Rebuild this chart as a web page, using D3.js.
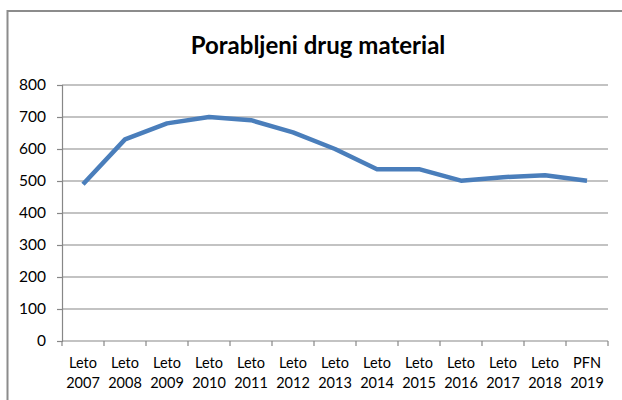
<!DOCTYPE html>
<html><head><meta charset="utf-8">
<script src="https://cdn.jsdelivr.net/npm/d3@7"></script>
<style>body{margin:0;background:#fff}</style>
</head><body>
<svg id="c" width="622" height="400"></svg>
<script>
const categories = [["Leto","2007"],["Leto","2008"],["Leto","2009"],["Leto","2010"],["Leto","2011"],["Leto","2012"],["Leto","2013"],["Leto","2014"],["Leto","2015"],["Leto","2016"],["Leto","2017"],["Leto","2018"],["PFN","2019"]];
const values = [490, 630, 680, 700, 690, 652, 600, 537, 537, 501, 512, 518, 501];
const yTicks = [0, 100, 200, 300, 400, 500, 600, 700, 800];
const title = "Porabljeni drug material";

const svg = d3.select("#c");
const font = "Lato, 'Open Sans', sans-serif";
svg.append("rect").attr("x", 7.5).attr("y", 11).attr("width", 640).attr("height", 420)
  .attr("fill", "#fff").attr("stroke", "#8c8c8c").attr("stroke-width", 2);

const L = 62, R = 608, T = 85, B = 341;
const x = d3.scaleBand().domain(d3.range(categories.length)).range([L, R]);
const y = d3.scaleLinear().domain([0, 800]).range([B, T]);

svg.append("text").attr("x", 318).attr("y", 54).attr("text-anchor", "middle")
  .attr("font-family", font).attr("font-weight", "bold").attr("font-size", 24)
  .attr("fill", "#000").text(title);

// gridlines
svg.append("g").selectAll("line").data(yTicks.filter(d => d > 0)).join("line")
  .attr("x1", L).attr("x2", R).attr("y1", d => y(d)).attr("y2", d => y(d))
  .attr("stroke", "#878787").attr("stroke-width", 1.2);

// y axis
const ya = svg.append("g").attr("transform", `translate(${L},0)`)
  .call(d3.axisLeft(y).tickValues(yTicks).tickSize(5).tickPadding(11));
ya.select(".domain").attr("stroke", "#878787").attr("stroke-width", 1.2);
ya.selectAll(".tick line").attr("stroke", "#878787").attr("stroke-width", 1.2);
ya.selectAll("text").attr("font-family", font).attr("font-size", 15.5).attr("fill", "#000");

// x axis
const xa = svg.append("g").attr("transform", `translate(0,${B})`);
xa.append("line").attr("x1", L).attr("x2", R).attr("stroke", "#878787").attr("stroke-width", 1.2);
const edges = d3.range(categories.length + 1).map(i => L + i * x.bandwidth());
xa.selectAll(".tk").data(edges).join("line").attr("class", "tk")
  .attr("x1", d => d).attr("x2", d => d).attr("y1", 0).attr("y2", 5)
  .attr("stroke", "#878787").attr("stroke-width", 1.2);
const lbl = xa.selectAll(".lb").data(categories).join("text").attr("class", "lb")
  .attr("text-anchor", "middle").attr("font-family", font).attr("font-size", 14.5).attr("fill", "#000")
  .attr("transform", (d, i) => `translate(${x(i) + x.bandwidth() / 2},0)`);
lbl.append("tspan").attr("x", 0).attr("y", 26.7).text(d => d[0]);
lbl.append("tspan").attr("x", 0).attr("y", 46.7).text(d => d[1]);

// line
const line = d3.line().x((d, i) => x(i) + x.bandwidth() / 2).y(d => y(d));
svg.append("path").datum(values).attr("d", line).attr("fill", "none")
  .attr("stroke", "#4a7ebb").attr("stroke-width", 4.5).attr("stroke-linejoin", "round");
</script>
</body></html>
